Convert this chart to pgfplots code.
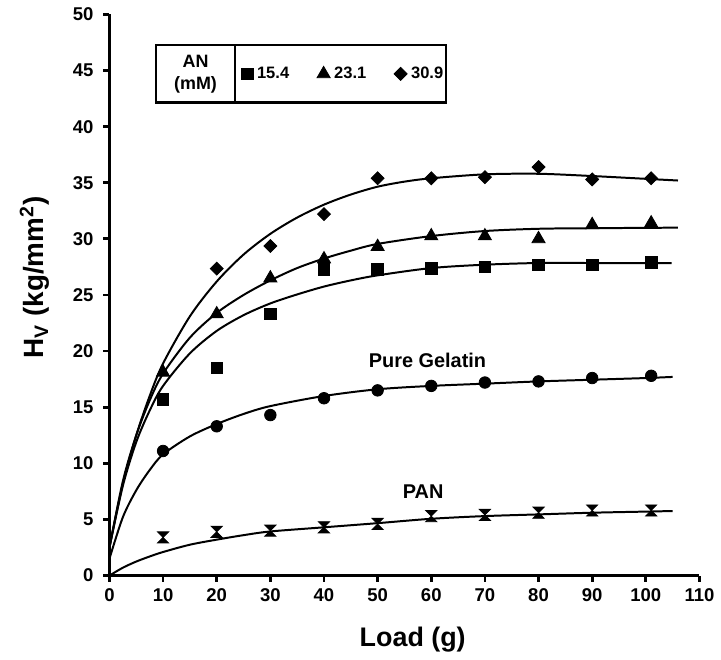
\documentclass[border=0pt]{standalone}
\usepackage{fontspec}
\setmainfont{Liberation Sans}
\usepackage{pgfplots}
\pgfplotsset{compat=1.18}
\pgfdeclareplotmark{hourglass}{%
 \pgfpathmoveto{\pgfqpoint{-\pgfplotmarksize}{\pgfplotmarksize}}%
 \pgfpathlineto{\pgfqpoint{\pgfplotmarksize}{\pgfplotmarksize}}%
 \pgfpathlineto{\pgfqpoint{-\pgfplotmarksize}{-\pgfplotmarksize}}%
 \pgfpathlineto{\pgfqpoint{\pgfplotmarksize}{-\pgfplotmarksize}}%
 \pgfpathclose
 \pgfusepathqfillstroke}
\begin{document}
\bfseries
\begin{tikzpicture}
\begin{axis}[
 scale only axis, width=296.5pt, height=282pt,
 xmin=0, xmax=110, ymin=0, ymax=50,
 axis lines=left, axis line style={-, line width=1.4pt},
 xtick={0,10,...,110}, ytick={0,5,...,50},
 tick align=outside, major tick length=3pt, tick style={line width=1.4pt, black},
 tick label style={font=\fontsize{9.3}{10}\selectfont\bfseries},
 /pgf/number format/assume math mode=true,
 yticklabel style={xshift=-1.5pt},
 xlabel={Load (g)}, ylabel={H\textsubscript{V} (kg/mm\textsuperscript{2})},
 xlabel style={font=\fontsize{13.5}{15}\selectfont\bfseries, at={(axis description cs:0.514,-0.1268)}, anchor=base},
 ylabel style={font=\fontsize{14}{16}\selectfont\bfseries, at={(axis description cs:-0.1265,0.531)}, anchor=center},
 clip=false,
 legend columns=3,
 legend style={draw=none, fill=none, at={(axis cs:43.8,44.7)}, anchor=center,
   font=\fontsize{8.3}{10}\selectfont\bfseries,
   /tikz/every even column/.append style={column sep=12pt}},
 legend image code/.code={\draw[#1] plot coordinates {(0pt,0pt)};},
]
% fitted curves
\addplot[black, line width=1pt, smooth, forget plot] coordinates {
 (0,2.5) (2.5,8.2) (5,12.5) (7.5,16.0) (10,18.9) (15,23.1) (20,26.2) (25,28.6) (30,30.45) (35,31.9) (40,33.05) (45,33.95) (50,34.65) (55,35.1) (60,35.4) (70,35.75) (80,35.8) (90,35.6) (100,35.35) (106,35.2)};
\addplot[black, line width=1pt, smooth, forget plot] coordinates {
 (0,2.5) (2.5,8.4) (5,12.5) (7.5,15.6) (10,18.0) (15,21.2) (20,23.4) (25,25.0) (30,26.3) (35,27.4) (40,28.25) (45,28.95) (50,29.55) (60,30.25) (70,30.7) (80,30.9) (90,30.95) (106,31.0)};
\addplot[black, line width=1pt, smooth, forget plot] coordinates {
 (0,2.5) (2.5,8.0) (5,11.9) (7.5,14.7) (10,16.9) (15,19.8) (20,21.8) (25,23.2) (30,24.25) (35,25.05) (40,25.75) (45,26.3) (50,26.75) (60,27.4) (70,27.7) (80,27.85) (90,27.85) (104.8,27.85)};
\addplot[black, line width=1pt, smooth, forget plot] coordinates {
 (0,1.5) (2.5,5.2) (5,7.6) (7.5,9.4) (10,10.8) (15,12.4) (20,13.5) (25,14.4) (30,15.1) (40,16.0) (50,16.6) (60,16.9) (70,17.1) (80,17.3) (90,17.45) (100,17.6) (105,17.7)};
\addplot[black, line width=1pt, smooth, forget plot] coordinates {
 (0,0) (2.5,0.7) (5,1.25) (7.5,1.7) (10,2.1) (15,2.75) (20,3.2) (25,3.6) (30,3.93) (40,4.3) (50,4.67) (60,5.06) (70,5.3) (80,5.45) (90,5.6) (100,5.7) (105,5.75)};
% pure gelatin
\addplot[only marks, mark=*, mark size=2.9pt, mark options={fill=black}, forget plot] coordinates {
 (10,11.1) (20,13.3) (30,14.3) (40,15.8) (50,16.5) (60,16.9) (70,17.2) (80,17.3) (90,17.6) (101,17.8)};
% PAN
\addplot[only marks, mark=hourglass, mark size=2.8pt, mark options={fill=black}, forget plot] coordinates {
 (10,3.4) (20,3.9) (30,4.0) (40,4.3) (50,4.6) (60,5.3) (70,5.4) (80,5.6) (90,5.8) (101,5.8)};
% AN 15.4
\addplot[only marks, mark=square*, mark size=2.9pt, mark options={fill=black}] coordinates {
 (10,15.7) (20,18.5) (30,23.3) (40,27.3) (50,27.3) (60,27.35) (70,27.5) (80,27.7) (90,27.7) (101,27.9)};
\addlegendentry{15.4}
% AN 23.1
\addplot[only marks, mark=triangle*, mark size=3.8pt, mark options={fill=black}] coordinates {
 (10,18.1) (20,23.3) (30,26.5) (40,28.2) (50,29.3) (60,30.25) (70,30.25) (80,30.0) (90,31.25) (101,31.4)};
\addlegendentry{23.1}
% AN 30.9
\addplot[only marks, mark=square*, mark size=2.3pt, mark options={rotate=45, fill=black}] coordinates {
 (20,27.35) (30,29.36) (40,32.2) (50,35.4) (60,35.4) (70,35.5) (80,36.4) (90,35.3) (101,35.4)};
\addlegendentry{30.9}
% legend frame
\draw[line width=1.2pt] (axis cs:8.7,47.3) rectangle (axis cs:62.8,42.15);
\draw[line width=1.2pt] (axis cs:23.4,47.3) -- (axis cs:23.4,42.15);
\node[align=center, font=\fontsize{9}{11}\selectfont\bfseries] at (axis cs:16.05,44.7) {AN\\(mM)};
% labels
\node[font=\fontsize{10}{12}\selectfont\bfseries] at (axis cs:59.3,19.2) {Pure Gelatin};
\node[font=\fontsize{10}{12}\selectfont\bfseries] at (axis cs:58.5,7.5) {PAN};
\end{axis}
\useasboundingbox (current axis.origin) ++(-55pt,-41.75pt) rectangle ++(360.5pt,331pt);
\end{tikzpicture}
\end{document}
